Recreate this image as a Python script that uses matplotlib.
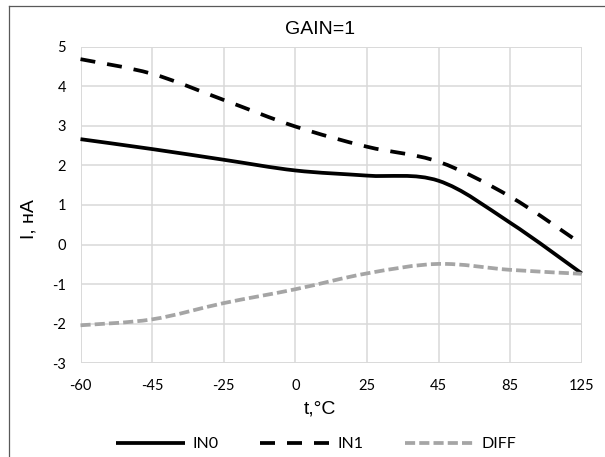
import matplotlib
matplotlib.use("Agg")
import matplotlib.pyplot as plt
import numpy as np
from matplotlib.path import Path
from matplotlib.patches import PathPatch
from matplotlib.lines import Line2D

categories = ["-60", "-45", "-25", "0", "25", "45", "85", "125"]
in0 = [2.66, 2.41, 2.14, 1.87, 1.74, 1.61, 0.55, -0.73]
in1 = [4.68, 4.31, 3.65, 2.98, 2.47, 2.09, 1.21, 0.01]
diff = [-2.04, -1.89, -1.48, -1.13, -0.73, -0.49, -0.64, -0.74]

title = "GAIN=1"
xlabel = "t,°C"
ylabel = "I, нА"

TXT = "Liberation Sans"
TICK = "Lato"
W, H = 605, 457

fig = plt.figure(figsize=(W / 100, H / 100), dpi=100)
ax = fig.add_axes([80.5 / W, 1 - 363.3 / H, (581.7 - 80.5) / W, (363.3 - 46.5) / H])

def smooth_path(xs, ys):
    xs = np.asarray(xs, float); ys = np.asarray(ys, float)
    n = len(xs)
    verts = [(xs[0], ys[0])]
    codes = [Path.MOVETO]
    for i in range(n - 1):
        p0 = np.array([xs[max(i - 1, 0)], ys[max(i - 1, 0)]])
        p1 = np.array([xs[i], ys[i]])
        p2 = np.array([xs[i + 1], ys[i + 1]])
        p3 = np.array([xs[min(i + 2, n - 1)], ys[min(i + 2, n - 1)]])
        c1 = p1 + (p2 - p0) / 6.0
        c2 = p2 - (p3 - p1) / 6.0
        verts += [tuple(c1), tuple(c2), tuple(p2)]
        codes += [Path.CURVE4] * 3
    return Path(verts, codes)

x = np.arange(len(categories))
LW = 2.7
styles = [
    (in0, "IN0", dict(color="black", ls="-")),
    (in1, "IN1", dict(color="black", ls=(0, (4.0, 3.2)))),
    (diff, "DIFF", dict(color="#A5A5A5", ls=(0, (2.7, 1.1)))),
]
handles = []
for vals, name, st in styles:
    p = PathPatch(smooth_path(x, vals), fill=False, edgecolor=st["color"],
                  linewidth=LW, linestyle=st["ls"], capstyle="butt",
                  joinstyle="round", zorder=3, clip_on=False)
    ax.add_patch(p)
    handles.append(Line2D([], [], color=st["color"], lw=LW, ls=st["ls"],
                          solid_capstyle="butt", dash_capstyle="butt", label=name))

ax.set_xlim(0, len(categories) - 1)
ax.set_ylim(-3, 5)
ax.set_xticks(x)
ax.set_xticklabels(categories, fontfamily=TICK, fontsize=10.5)
ax.set_yticks(np.arange(-3, 6, 1))
ax.set_yticklabels([str(v) for v in range(-3, 6)], fontfamily=TICK, fontsize=10.5)
ax.tick_params(axis="x", length=0, pad=11.5)
ax.tick_params(axis="y", length=0, pad=10.5)
for s in ax.spines.values():
    s.set_visible(False)
ax.grid(True, color="#D9D9D9", lw=1.1)
ax.set_axisbelow(True)
for xv in [0, len(categories) - 1]:
    ax.axvline(xv, color="#D9D9D9", lw=1.1, zorder=0.5)
for yv in [-3, 5]:
    ax.axhline(yv, color="#D9D9D9", lw=1.1, zorder=0.5)

fig.text(320 / W, 1 - 29 / H, title, fontfamily=TXT, fontsize=14,
         ha="center", va="center")
fig.text(320 / W, 1 - 409 / H, xlabel, fontfamily=TXT, fontsize=14,
         ha="center", va="center")
fig.text(29 / W, 1 - 219 / H, ylabel, fontfamily=TXT, fontsize=14,
         ha="center", va="center", rotation=90)

fig.legend(handles=handles, loc="center", bbox_to_anchor=(316 / W, 1 - 444 / H), ncol=3,
           frameon=False, handlelength=4.3, handletextpad=0.5, columnspacing=2.6,
           borderpad=0, prop=dict(family=TICK, size=11.5))

# chart-area border (left and top visible in the crop)
fig.add_artist(Line2D([8.5 / W, 8.5 / W], [0, 1 - 6 / H], transform=fig.transFigure,
                      color="#595959", lw=0.9))
fig.add_artist(Line2D([8.5 / W, 1], [1 - 6 / H, 1 - 6 / H], transform=fig.transFigure,
                      color="#595959", lw=0.9))

fig.savefig("out.png", dpi=100)
